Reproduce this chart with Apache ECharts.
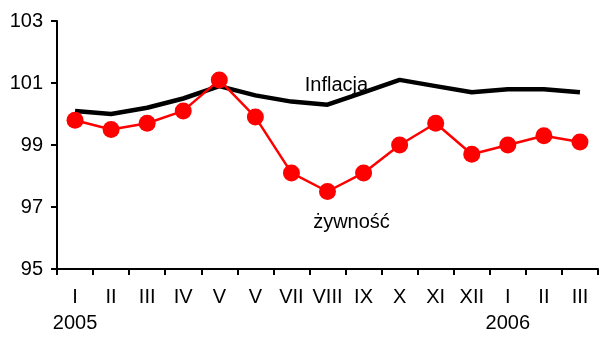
<!DOCTYPE html>
<html>
<head>
<meta charset="utf-8">
<script src="https://cdn.jsdelivr.net/npm/echarts@6/dist/echarts.min.js"></script>
<style>
  html, body { margin: 0; padding: 0; background: #fff; }
  #chart { width: 605px; height: 338px; }
</style>
</head>
<body>
<div id="chart"></div>
<script>
// Month labels (roman numerals) and the year shown under the first month of each year
const months = ['I', 'II', 'III', 'IV', 'V', 'V', 'VII', 'VIII', 'IX', 'X', 'XI', 'XII', 'I', 'II', 'III'];
const years  = ['2005', '', '', '', '', '', '', '', '', '', '', '', '2006', '', ''];

// Price indices, previous month = 100
const inflacja = [100.1, 100.0, 100.2, 100.5, 100.9, 100.6, 100.4, 100.3, 100.7, 101.1, 100.9, 100.7, 100.8, 100.8, 100.7];
const zywnosc  = [99.8, 99.5, 99.7, 100.1, 101.1, 99.9, 98.1, 97.5, 98.1, 99.0, 99.7, 98.7, 99.0, 99.3, 99.1];

const yTicks = [95, 97, 99, 101, 103];

const seriesNames = ['Inflacja', 'żywność'];
const labelIndex = 7;

const font = 'Liberation Sans, Arial, sans-serif';
const fontSize = 20;

const chart = echarts.init(document.getElementById('chart'), null, { renderer: 'canvas' });

const categories = months.map((m, i) => years[i] ? m + '\n' + years[i] : m);

const withLabel = (arr, text, position, offset) => arr.map((v, i) => i === labelIndex ? {
  value: v,
  label: { show: true, formatter: text, position: position, offset: offset, color: '#000', fontSize: fontSize, fontFamily: font }
} : v);

chart.setOption({
  animation: false,
  backgroundColor: '#fff',
  grid: { left: 57, right: 7, top: 21, bottom: 69, containLabel: false },
  xAxis: {
    type: 'category',
    data: categories,
    boundaryGap: true,
    axisLine: { lineStyle: { color: '#000', width: 2 } },
    axisTick: { show: true, length: 6, lineStyle: { color: '#000', width: 2 }, alignWithLabel: false },
    axisLabel: { color: '#000', fontSize: fontSize, fontFamily: font, margin: 15, lineHeight: 26, interval: 0 },
    splitLine: { show: false }
  },
  yAxis: {
    type: 'value',
    min: yTicks[0],
    max: yTicks[yTicks.length - 1],
    interval: yTicks[1] - yTicks[0],
    axisLine: { show: true, lineStyle: { color: '#000', width: 2 } },
    axisTick: { show: true, length: 6, lineStyle: { color: '#000', width: 2 } },
    axisLabel: { color: '#000', fontSize: fontSize, fontFamily: font, margin: 14 },
    splitLine: { show: false }
  },
  series: [
    {
      name: seriesNames[0],
      type: 'line',
      data: withLabel(inflacja, seriesNames[0], 'top', [9, -4]),
      symbol: 'circle',
      symbolSize: 0,
      showSymbol: true,
      itemStyle: { color: '#000' },
      lineStyle: { color: '#000', width: 4.5 },
      z: 2
    },
    {
      name: seriesNames[1],
      type: 'line',
      data: withLabel(zywnosc, seriesNames[1], 'bottom', [24, 7]),
      symbol: 'circle',
      symbolSize: 17,
      itemStyle: { color: '#ff0000' },
      lineStyle: { color: '#ff0000', width: 2.5 },
      z: 3
    }
  ]
});
</script>
</body>
</html>
